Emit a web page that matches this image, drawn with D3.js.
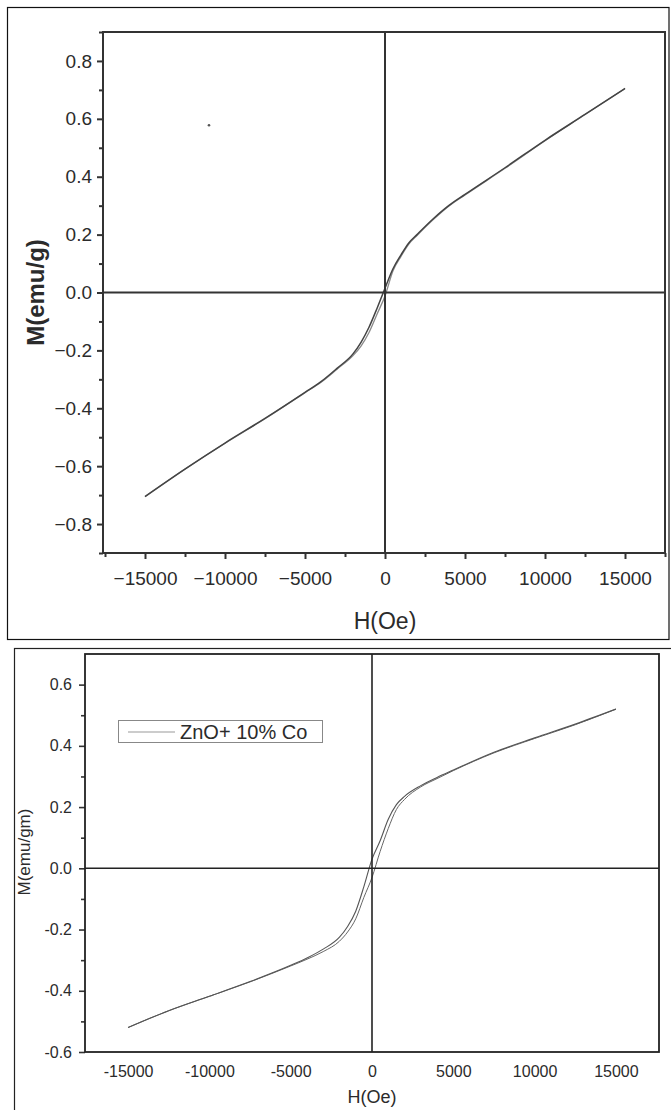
<!DOCTYPE html>
<html>
<head>
<meta charset="utf-8">
<style>
body { margin: 0; background: #fff; }
svg text { font-family: "Liberation Sans", Arial, sans-serif; fill: #2b2b2b; }
</style>
</head>
<body>
<div id="app"></div>
<script src="https://d3js.org/d3.v7.min.js"></script>
<script>
// field values (Oe) shared by both loops
const field = [-15000, -12500, -10000, -7500, -5000, -4000, -3000, -2000, -1500, -1000, -500, 0,
               500, 1000, 1500, 2000, 3000, 4000, 5000, 7500, 10000, 12500, 15000];

// top panel, M(emu/g)
const topDown = [-0.705, -0.61, -0.52, -0.435, -0.345, -0.308, -0.262, -0.212, -0.172, -0.12, -0.055, 0.015,
                 0.082, 0.13, 0.172, 0.2, 0.254, 0.301, 0.339, 0.431, 0.526, 0.615, 0.705];
const topUp   = [-0.705, -0.61, -0.521, -0.436, -0.346, -0.31, -0.265, -0.218, -0.185, -0.138, -0.075, -0.012,
                 0.075, 0.125, 0.168, 0.197, 0.251, 0.299, 0.337, 0.429, 0.524, 0.615, 0.705];
const topStray = [[-11000, 0.578]];

// bottom panel, ZnO+ 10% Co, M(emu/gm)
const botDown = [-0.52, -0.465, -0.418, -0.37, -0.317, -0.293, -0.264, -0.225, -0.19, -0.14, -0.06, 0.03,
                 0.09, 0.16, 0.208, 0.235, 0.27, 0.297, 0.321, 0.379, 0.426, 0.471, 0.52];
const botUp   = [-0.52, -0.465, -0.418, -0.371, -0.319, -0.297, -0.272, -0.238, -0.208, -0.165, -0.095, -0.03,
                 0.055, 0.13, 0.192, 0.225, 0.266, 0.293, 0.319, 0.377, 0.424, 0.469, 0.52];

// tick labels
const topXTicks = [-15000, -10000, -5000, 0, 5000, 10000, 15000];
const topXMinor = [-17500, -12500, -7500, -2500, 2500, 7500, 12500, 17500];
const topYTicks = [-0.8, -0.6, -0.4, -0.2, 0, 0.2, 0.4, 0.6, 0.8];
const topYMinor = [-0.9, -0.7, -0.5, -0.3, -0.1, 0.1, 0.3, 0.5, 0.7, 0.9];
const botXTicks = [-15000, -10000, -5000, 0, 5000, 10000, 15000];
const botYTicks = [-0.6, -0.4, -0.2, 0, 0.2, 0.4, 0.6];
const botYMinor = [-0.5, -0.3, -0.1, 0.1, 0.3, 0.5];

const width = 671, height = 1110;

const svg = d3.select("#app").append("svg")
    .attr("width", width)
    .attr("height", height);

const zip = arr => field.map((h, i) => [h, arr[i]]);

// ---------- top panel ----------
(() => {
  const x = d3.scaleLinear().domain([-17625, 17500]).range([103, 665]);
  const y = d3.scaleLinear().domain([-0.9, 0.9]).range([553, 32]);
  const g = svg.append("g");

  g.append("rect")
      .attr("x", 7.5).attr("y", 7.5).attr("width", 661.5).attr("height", 632)
      .attr("fill", "none").attr("stroke", "#111").attr("stroke-width", 1.2);

  const line = d3.line().x(d => x(d[0])).y(d => y(d[1])).curve(d3.curveMonotoneX);

  g.append("path").datum(zip(topUp))
      .attr("fill", "none").attr("stroke", "#8a8a8a").attr("stroke-width", 1.3).attr("d", line);
  g.append("path").datum(zip(topDown))
      .attr("fill", "none").attr("stroke", "#444").attr("stroke-width", 1.5).attr("d", line);

  g.selectAll(".stray").data(topStray).join("circle")
      .attr("cx", d => x(d[0])).attr("cy", d => y(d[1])).attr("r", 1.3).attr("fill", "#555");

  // zero lines
  g.append("line").attr("x1", x(0)).attr("x2", x(0)).attr("y1", y(0.9)).attr("y2", y(-0.9))
      .attr("stroke", "#333").attr("stroke-width", 2);
  g.append("line").attr("x1", x.range()[0]).attr("x2", x.range()[1]).attr("y1", y(0)).attr("y2", y(0))
      .attr("stroke", "#333").attr("stroke-width", 2);

  const fmtY = d3.format(".1f"), fmtX = d3.format("d");

  g.append("g").attr("transform", `translate(0,${y.range()[0]})`)
      .call(d3.axisBottom(x).tickValues(topXTicks).tickSize(6).tickPadding(13).tickFormat(fmtX))
      .call(a => a.select(".domain").remove())
      .call(a => a.selectAll("line").attr("stroke", "#333").attr("stroke-width", 2))
      .call(a => a.selectAll("text").attr("font-size", 19).attr("fill", "#2b2b2b"));
  g.append("g").attr("transform", `translate(0,${y.range()[0]})`)
      .call(d3.axisBottom(x).tickValues(topXMinor).tickSize(4).tickFormat(""))
      .call(a => a.select(".domain").remove())
      .call(a => a.selectAll("line").attr("stroke", "#333").attr("stroke-width", 2));

  g.append("g").attr("transform", `translate(${x.range()[0]},0)`)
      .call(d3.axisLeft(y).tickValues(topYTicks).tickSize(6).tickPadding(5).tickFormat(fmtY))
      .call(a => a.select(".domain").remove())
      .call(a => a.selectAll("line").attr("stroke", "#333").attr("stroke-width", 2))
      .call(a => a.selectAll("text").attr("font-size", 19).attr("fill", "#2b2b2b"));
  g.append("g").attr("transform", `translate(${x.range()[0]},0)`)
      .call(d3.axisLeft(y).tickValues(topYMinor).tickSize(4).tickFormat(""))
      .call(a => a.select(".domain").remove())
      .call(a => a.selectAll("line").attr("stroke", "#333").attr("stroke-width", 2));

  // plot frame
  g.append("rect")
      .attr("x", x.range()[0]).attr("y", y.range()[1])
      .attr("width", x.range()[1] - x.range()[0]).attr("height", y.range()[0] - y.range()[1])
      .attr("fill", "none").attr("stroke", "#333").attr("stroke-width", 2);

  g.append("text").attr("x", x(0)).attr("y", 629).attr("text-anchor", "middle")
      .attr("font-size", 23).text("H(Oe)");
  g.append("text").attr("transform", `translate(44,${y(0)}) rotate(-90)`).attr("text-anchor", "middle")
      .attr("font-size", 24).attr("font-weight", "bold").attr("fill", "#333").text("M(emu/g)");
})();

// ---------- bottom panel ----------
(() => {
  const x = d3.scaleLinear().domain([-17650, 17650]).range([85, 659]);
  const y = d3.scaleLinear().domain([-0.6, 0.7]).range([1052, 654]);
  const g = svg.append("g");

  g.append("rect")
      .attr("x", 14.5).attr("y", 648.5).attr("width", 700).attr("height", 500)
      .attr("fill", "none").attr("stroke", "#222").attr("stroke-width", 1.2);

  const line = d3.line().x(d => x(d[0])).y(d => y(d[1])).curve(d3.curveMonotoneX);

  g.append("path").datum(zip(botUp))
      .attr("fill", "none").attr("stroke", "#666").attr("stroke-width", 1).attr("d", line);
  g.append("path").datum(zip(botDown))
      .attr("fill", "none").attr("stroke", "#555").attr("stroke-width", 1.1).attr("d", line);

  g.append("line").attr("x1", x(0)).attr("x2", x(0)).attr("y1", y(0.7)).attr("y2", y(-0.6))
      .attr("stroke", "#222").attr("stroke-width", 1.6);
  g.append("line").attr("x1", x.range()[0]).attr("x2", x.range()[1]).attr("y1", y(0)).attr("y2", y(0))
      .attr("stroke", "#222").attr("stroke-width", 1.6);

  g.append("g").attr("transform", `translate(0,${y.range()[0]})`)
      .call(d3.axisBottom(x).tickValues(botXTicks).tickSize(0).tickPadding(14).tickFormat(d => String(d)))
      .call(a => a.select(".domain").remove())
      .call(a => a.selectAll("text").attr("font-size", 16).attr("fill", "#2b2b2b"));

  g.append("g").attr("transform", `translate(${x.range()[0]},0)`)
      .call(d3.axisLeft(y).tickValues(botYTicks).tickSize(6).tickPadding(7).tickFormat(d => d.toFixed(1)))
      .call(a => a.select(".domain").remove())
      .call(a => a.selectAll("line").attr("stroke", "#333").attr("stroke-width", 1.6))
      .call(a => a.selectAll("text").attr("font-size", 16).attr("fill", "#2b2b2b"));
  g.append("g").attr("transform", `translate(${x.range()[0]},0)`)
      .call(d3.axisLeft(y).tickValues(botYMinor).tickSize(4).tickFormat(""))
      .call(a => a.select(".domain").remove())
      .call(a => a.selectAll("line").attr("stroke", "#333").attr("stroke-width", 1.6));

  g.append("rect")
      .attr("x", x.range()[0]).attr("y", y.range()[1])
      .attr("width", x.range()[1] - x.range()[0]).attr("height", y.range()[0] - y.range()[1])
      .attr("fill", "none").attr("stroke", "#222").attr("stroke-width", 1.8);

  // legend
  const leg = g.append("g").attr("transform", "translate(118,720)");
  leg.append("rect").attr("x", 0.5).attr("y", 0.5).attr("width", 204).attr("height", 22)
      .attr("fill", "#fff").attr("stroke", "#888").attr("stroke-width", 1);
  leg.append("line").attr("x1", 10).attr("x2", 57).attr("y1", 12).attr("y2", 12)
      .attr("stroke", "#999").attr("stroke-width", 1);
  leg.append("text").attr("x", 62).attr("y", 19).attr("font-size", 20).text("ZnO+ 10% Co");

  g.append("text").attr("x", x(0)).attr("y", 1103).attr("text-anchor", "middle")
      .attr("font-size", 18).text("H(Oe)");
  g.append("text").attr("transform", "translate(30,852) rotate(-90)").attr("text-anchor", "middle")
      .attr("font-size", 17).text("M(emu/gm)");
})();
</script>
</body>
</html>
